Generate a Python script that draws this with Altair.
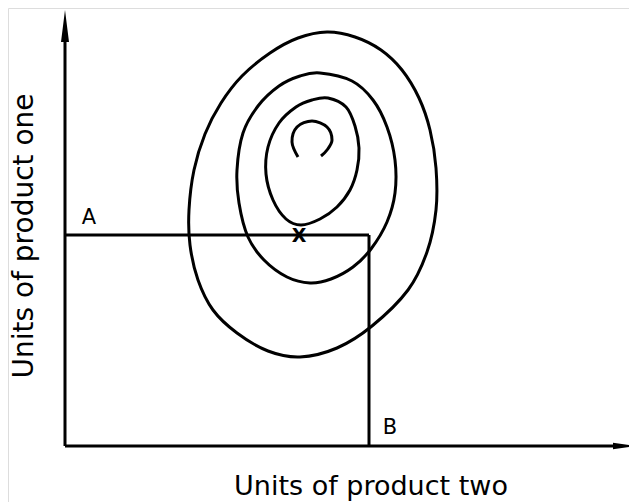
import altair as alt
import pandas as pd

# Iso-profit contours (image pixel coordinates, y downward)
outer_x = [327, 355, 381, 402, 419, 430, 436, 436, 427, 408, 372, 337, 300, 268, 237, 213, 198, 190, 189, 194, 205, 221, 242, 270, 298]
outer_y = [32, 37, 50, 70, 98, 130, 168, 210, 252, 290, 326, 348, 357, 351, 333, 310, 280, 245, 210, 170, 134, 103, 76, 53, 38]
middle_x = [320, 352, 373, 387, 395, 395, 387, 371, 353, 331, 310, 287, 264, 248, 239, 237, 243, 258, 279, 300]
middle_y = [73, 81, 100, 127, 160, 193, 222, 249, 267, 279, 283, 277, 260, 237, 203, 170, 133, 106, 86, 76]
inner_x = [328, 346, 355, 359, 357, 350, 337, 320, 301, 286, 273, 266, 268, 279, 296, 312]
inner_y = [98, 107, 126, 148, 170, 190, 207, 219, 225, 219, 200, 174, 147, 123, 107, 100]
arc_x = [298, 292, 297, 312, 327, 332, 327, 321]
arc_y = [157, 142, 127, 121, 127, 140, 150, 156]

# Straight segments: axes and the A-B constraint
seg_x1 = [65, 65, 65, 369]
seg_y1 = [446, 446, 235, 235]
seg_x2 = [65, 615, 369, 369]
seg_y2 = [30, 446, 235, 446]

label_text = ["A", "B"]
label_x = [89, 390]
label_y = [218, 428]

rows = []
for name, xs, ys in [("outer", outer_x, outer_y), ("middle", middle_x, middle_y), ("inner", inner_x, inner_y)]:
    for i, (x, y) in enumerate(zip(xs, ys)):
        rows.append({"contour": name, "order": i, "x": x, "y": y})
contours = pd.DataFrame(rows)
arc = pd.DataFrame({"order": range(len(arc_x)), "x": arc_x, "y": arc_y})
segs = pd.DataFrame({"x": seg_x1, "y": seg_y1, "x2": seg_x2, "y2": seg_y2})
labels = pd.DataFrame({"t": label_text, "x": label_x, "y": label_y})

X = alt.X("x:Q", scale=alt.Scale(domain=[8, 629], zero=False, nice=False), axis=None)
Y = alt.Y("y:Q", scale=alt.Scale(domain=[8, 502], zero=False, nice=False, reverse=True), axis=None)

FONT = "DejaVu Sans"

c_lines = alt.Chart(contours).mark_line(
    interpolate="cardinal-closed", strokeWidth=3, color="black"
).encode(x=X, y=Y, detail="contour:N", order="order:Q")

c_arc = alt.Chart(arc).mark_line(
    interpolate="cardinal", strokeWidth=3, color="black"
).encode(x=X, y=Y, order="order:Q")

c_segs = alt.Chart(segs).mark_rule(strokeWidth=3, color="black").encode(
    x=X, y=Y, x2="x2:Q", y2="y2:Q"
)

up = alt.Chart(pd.DataFrame({"x": [65], "y": [26]})).mark_point(
    shape="M0,-1L0.25,1L-0.25,1Z", size=1024, filled=True, color="black", opacity=1, strokeWidth=0
).encode(x=X, y=Y)

right = alt.Chart(pd.DataFrame({"x": [625], "y": [446]})).mark_point(
    shape="M1,0L-1,-0.27L-1,0.27Z", size=576, filled=True, color="black", opacity=1, strokeWidth=0
).encode(x=X, y=Y)

c_labels = alt.Chart(labels).mark_text(
    font=FONT, fontSize=21, color="black", baseline="middle", align="center"
).encode(x=X, y=Y, text="t:N")

c_star = alt.Chart(pd.DataFrame({"t": ["X"], "x": [299], "y": [236]})).mark_text(
    font=FONT, fontSize=19, fontWeight="bold", color="black", baseline="middle", align="center"
).encode(x=X, y=Y, text="t:N")

xt = alt.Chart(pd.DataFrame({"t": ["Units of product two"], "x": [371], "y": [495]})).mark_text(
    font=FONT, fontSize=27, color="black", baseline="alphabetic", align="center"
).encode(x=X, y=Y, text="t:N")

yt = alt.Chart(pd.DataFrame({"t": ["Units of product one"], "x": [25], "y": [236]})).mark_text(
    font=FONT, fontSize=28, color="black", baseline="middle", align="center", angle=270
).encode(x=X, y=Y, text="t:N")

chart = alt.layer(c_segs, c_lines, c_arc, up, right, c_labels, c_star, xt, yt).properties(
    width=621, height=494, padding=0, autosize=alt.AutoSizeParams(type="none")
).configure_view(stroke=None).configure(background="white")

chart.save("out.html", embed_options={"renderer": "svg", "actions": False})
